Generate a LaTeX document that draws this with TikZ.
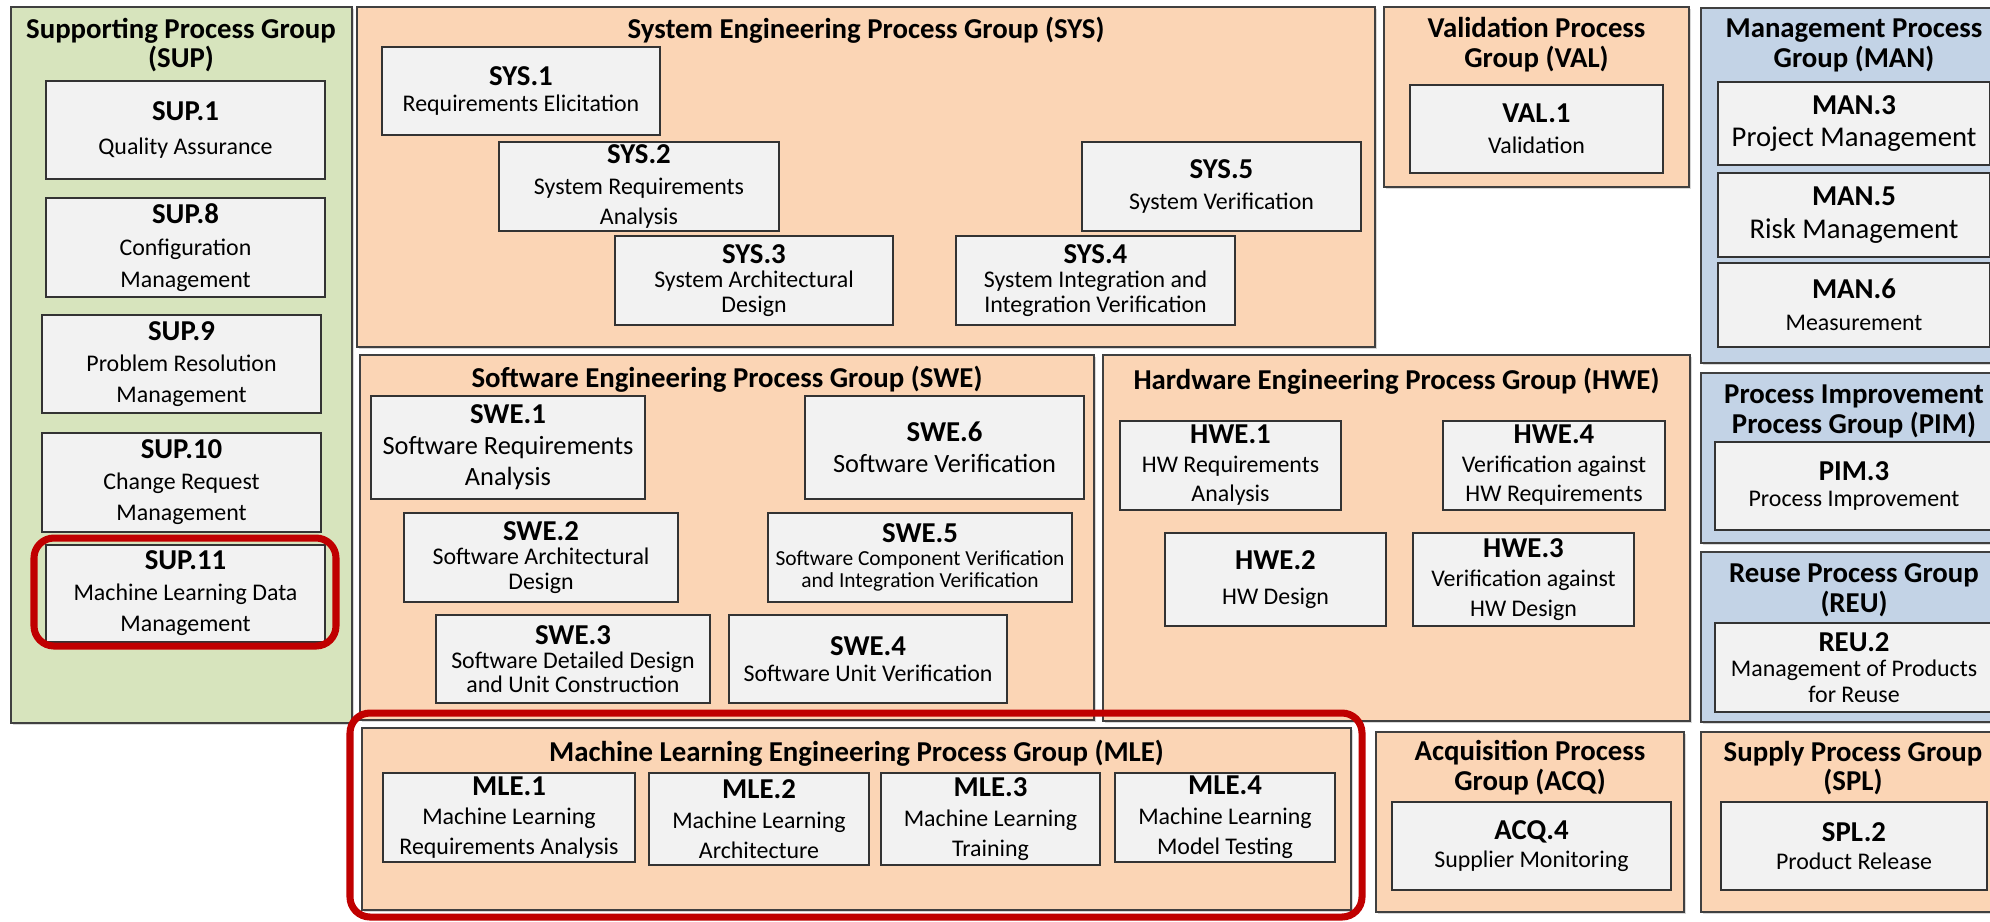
\documentclass[tikz,border=0pt]{standalone}
\usepackage{fontspec}
\setmainfont{Carlito}
\usetikzlibrary{shadows}
\definecolor{supgreen}{HTML}{D7E4BD}
\definecolor{grppeach}{HTML}{FBD5B5}
\definecolor{manblue}{HTML}{C3D3E6}
\definecolor{procgray}{HTML}{F2F2F2}
\definecolor{mlred}{HTML}{C00000}
\newcommand{\pid}[1]{{\fontsize{16.4}{18}\selectfont\bfseries #1}\\}
\begin{document}
\begin{tikzpicture}[x = 0.02cm, y = -0.02cm,
		grp/.style = {draw = black!75, line width = 1.2pt, drop shadow = {shadow xshift = 1pt, shadow yshift = -1pt, opacity = 0.3}},
		grptitle/.style = {font = \fontsize{16.4}{17}\selectfont\bfseries, align = center, inner sep = 0pt},
		proc/.style = {draw = black!80, fill = procgray, line width = 1.1pt, align = center, inner sep = 1pt, font = \fontsize{13.6}{#1}\selectfont, drop shadow = {shadow xshift = 0.8pt, shadow yshift = -0.8pt, opacity = 0.3}},
		proc/.default = 17.6,
		wh/.style 2 args = {minimum width = #1*0.02cm, minimum height = #2*0.02cm},
		mlmark/.style = {draw = mlred, line width = 4pt, rounded corners = 0.4cm}]
	\useasboundingbox (0, 0) rectangle (1990, 921);
	\clip (0, 0) rectangle (1990, 921);
	\fill[white] (0, 0) rectangle (1990, 921);
	\draw[grp, fill = supgreen] (11, 7) rectangle (352, 723);
	\draw[grp, fill = grppeach] (357, 7) rectangle (1375, 347);
	\draw[grp, fill = grppeach] (1384, 7) rectangle (1689, 187);
	\draw[grp, fill = manblue] (1701, 8) rectangle (2010, 363);
	\draw[grp, fill = grppeach] (360, 355) rectangle (1094, 720);
	\draw[grp, fill = grppeach] (1103, 355) rectangle (1690, 721);
	\draw[grp, fill = manblue] (1701, 373) rectangle (2010, 543);
	\draw[grp, fill = manblue] (1701, 552) rectangle (2010, 722);
	\draw[grp, fill = grppeach] (362, 728) rectangle (1351, 910);
	\draw[grp, fill = grppeach] (1376, 732) rectangle (1684, 912);
	\draw[grp, fill = grppeach] (1701, 732) rectangle (2010, 912);
	\node[grptitle] (suptitle) at (181, 45) {Supporting Process Group\\(SUP)};
	\node[grptitle] (systitle) at (866, 30) {System Engineering Process Group (SYS)};
	\node[grptitle] (valtitle) at (1536.5, 45) {Validation Process\\Group (VAL)};
	\node[grptitle] (mantitle) at (1854, 45) {Management Process\\Group (MAN)};
	\node[grptitle] (swetitle) at (727, 379) {Software Engineering Process Group (SWE)};
	\node[grptitle] (hwetitle) at (1396.5, 381) {Hardware Engineering Process Group (HWE)};
	\node[grptitle] (pimtitle) at (1854, 411) {Process Improvement\\Process Group (PIM)};
	\node[grptitle] (reutitle) at (1854, 590) {Reuse Process Group\\(REU)};
	\node[grptitle] (mletitle) at (856.5, 753) {Machine Learning Engineering Process Group (MLE)};
	\node[grptitle] (acqtitle) at (1530, 768) {Acquisition Process\\Group (ACQ)};
	\node[grptitle] (spltitle) at (1853, 768) {Supply Process Group\\(SPL)};
	\node[proc = 19.5, wh = {279}{98}] (sup1) at (185.5, 130) {\pid{SUP.1}Quality Assurance};
	\node[proc = 18, wh = {279}{99}] (sup8) at (185.5, 247.5) {\pid{SUP.8}Configuration\\Management};
	\node[proc, wh = {279}{98}] (sup9) at (181.5, 364) {\pid{SUP.9}Problem Resolution\\Management};
	\node[proc, wh = {279}{99}] (sup10) at (181.5, 482.5) {\pid{SUP.10}Change Request\\Management};
	\node[proc, wh = {279}{97}] (sup11) at (185.5, 593.5) {\pid{SUP.11}Machine Learning Data\\Management};
	\node[proc = 15, wh = {278}{88}] (sys1) at (521, 91) {\pid{SYS.1}Requirements Elicitation};
	\node[proc, wh = {280}{89}] (sys2) at (639, 186.5) {\pid{SYS.2}System Requirements\\Analysis};
	\node[proc = 14, wh = {278}{89}] (sys3) at (754, 280.5) {\pid{SYS.3}System Architectural\\Design};
	\node[proc = 14, wh = {279}{89}] (sys4) at (1095.5, 280.5) {\pid{SYS.4}System Integration and\\Integration Verification};
	\node[proc, wh = {279}{89}] (sys5) at (1221.5, 186.5) {\pid{SYS.5}System Verification};
	\node[proc, wh = {253}{88}] (val1) at (1536.5, 129) {\pid{VAL.1}Validation};
	\node[proc = 18.5, font = \fontsize{16.3}{18.5}\selectfont, wh = {272}{83}] (man3) at (1854, 123.5) {\pid{MAN.3}Project Management};
	\node[proc = 18.5, font = \fontsize{16.3}{18.5}\selectfont, wh = {272}{84}] (man5) at (1854, 215) {\pid{MAN.5}Risk Management};
	\node[proc = 18, wh = {272}{84}] (man6) at (1854, 305) {\pid{MAN.6}Measurement};
	\node[proc, font = \fontsize{15}{17.6}\selectfont, wh = {274}{103}] (swe1) at (508, 447.5) {\pid{SWE.1}Software Requirements\\Analysis};
	\node[proc, font = \fontsize{15}{17.6}\selectfont, wh = {279}{103}] (swe6) at (944.5, 447.5) {\pid{SWE.6}Software Verification};
	\node[proc = 14, wh = {274}{89}] (swe2) at (541, 557.5) {\pid{SWE.2}Software Architectural\\Design};
	\node[proc, font = \fontsize{12.2}{12.8}\selectfont, wh = {304}{89}] (swe5) at (920, 557.5) {\pid{SWE.5}Software Component Verification\\and Integration Verification};
	\node[proc = 13.5, wh = {274}{88}] (swe3) at (573, 659) {\pid{SWE.3}Software Detailed Design\\and Unit Construction};
	\node[proc = 14.5, wh = {278}{88}] (swe4) at (868, 659) {\pid{SWE.4}Software Unit Verification};
	\node[proc = 16.5, wh = {221}{89}] (hwe1) at (1230.5, 465.5) {\pid{HWE.1}HW Requirements\\Analysis};
	\node[proc = 16.5, wh = {222}{89}] (hwe4) at (1554, 465.5) {\pid{HWE.4}Verification against\\HW Requirements};
	\node[proc = 20, wh = {221}{93}] (hwe2) at (1275.5, 579.5) {\pid{HWE.2}HW Design};
	\node[proc = 17, wh = {221}{93}] (hwe3) at (1523.5, 579.5) {\pid{HWE.3}Verification against\\HW Design};
	\node[proc = 15, wh = {278}{88}] (pim3) at (1854, 486) {\pid{PIM.3}Process Improvement};
	\node[proc = 14.5, wh = {278}{89}] (reu2) at (1854, 667.5) {\pid{REU.2}Management of Products\\for Reuse};
	\node[proc = 17, wh = {252}{89}] (mle1) at (509, 817.5) {\pid{MLE.1}Machine Learning\\Requirements Analysis};
	\node[proc = 17, wh = {220}{92}] (mle2) at (759, 819) {\pid{MLE.2}Machine Learning\\Architecture};
	\node[proc = 17, wh = {219}{92}] (mle3) at (990.5, 819) {\pid{MLE.3}Machine Learning\\Training};
	\node[proc = 17, wh = {220}{89}] (mle4) at (1225, 817.5) {\pid{MLE.4}Machine Learning\\Model Testing};
	\node[proc = 16, wh = {279}{88}] (acq4) at (1531.5, 846) {\pid{ACQ.4}Supplier Monitoring};
	\node[proc = 16, wh = {266}{88}] (spl2) at (1854, 846) {\pid{SPL.2}Product Release};
	\draw[mlmark] (34, 538) rectangle (336, 646);
	\draw[mlmark] (350, 713) rectangle (1362, 917);
\end{tikzpicture}
\end{document}
